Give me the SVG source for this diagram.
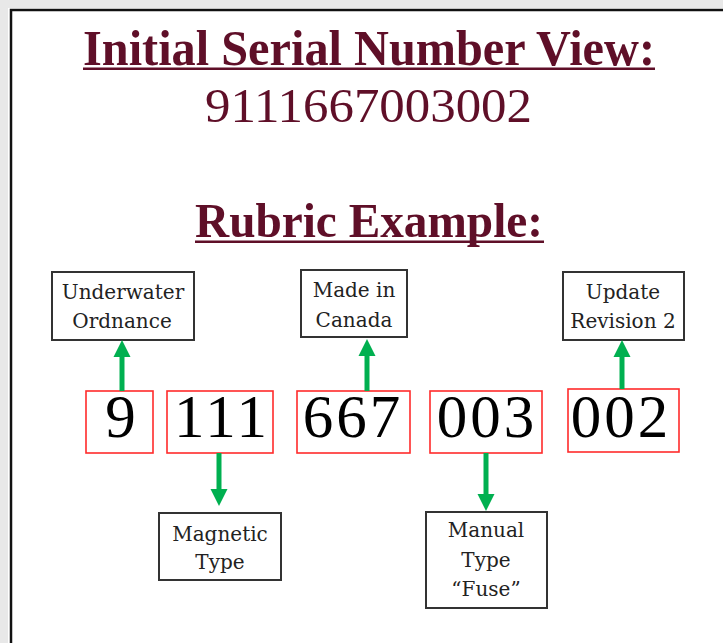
<svg xmlns="http://www.w3.org/2000/svg" width="723" height="643" viewBox="0 0 723 643">
<style>
.title{font-family:"Liberation Serif","DejaVu Serif",serif;font-weight:bold;fill:#5f0f28}
.num{font-family:"Liberation Serif","DejaVu Serif",serif;fill:#5f0f28}
.lbl{fill:#fff;stroke:#333;stroke-width:2}
.lt{font-family:"DejaVu Serif","Liberation Serif",serif;font-size:20px;fill:#222;text-anchor:middle}
.seg{fill:#fff;stroke:#ff2b2b;stroke-width:1.6}
.dig{font-family:"Liberation Serif","DejaVu Serif",serif;font-size:61px;fill:#000;text-anchor:middle;letter-spacing:3px}
.shaft{stroke:#00b050;stroke-width:5;fill:none}
.head{fill:#00b050}
</style>
<rect x="0" y="0" width="723" height="643" fill="#ffffff"/>
<rect x="0" y="0" width="723" height="8" fill="#e8e8e8"/>
<rect x="0" y="0" width="8" height="643" fill="#e8e8e8"/>
<path d="M11 643 V10 H723" fill="none" stroke="#111" stroke-width="2.5"/>

<g id="title1">
<text class="title" x="83" y="65" font-size="50" textLength="572" lengthAdjust="spacingAndGlyphs">Initial Serial Number View:</text>
<rect x="83" y="67.5" width="572" height="2.5" fill="#5f0f28"/>
</g>
<g id="serial">
<text class="num" x="205" y="122" font-size="48" textLength="327" lengthAdjust="spacingAndGlyphs">9111667003002</text>
</g>
<g id="title2">
<text class="title" x="195" y="237" font-size="49" textLength="348" lengthAdjust="spacingAndGlyphs">Rubric Example:</text>
<rect x="195" y="240.5" width="349" height="2.5" fill="#5f0f28"/>
</g>

<g id="seg-9"><rect class="seg" x="86" y="391" width="67" height="62"/><text class="dig" x="122" y="437">9</text></g>
<g id="seg-111"><rect class="seg" x="167" y="391" width="106" height="62"/><text class="dig" x="222" y="437">111</text></g>
<g id="seg-667"><rect class="seg" x="297" y="391" width="113" height="62"/><text class="dig" x="353" y="437">667</text></g>
<g id="seg-003"><rect class="seg" x="430" y="391" width="112" height="62"/><text class="dig" x="487" y="437">003</text></g>
<g id="seg-002"><rect class="seg" x="568" y="389" width="111" height="63"/><text class="dig" x="621" y="437">002</text></g>

<g id="lbl-underwater"><rect class="lbl" x="52" y="272" width="142" height="68"/><text class="lt" x="123" y="299">Underwater</text><text class="lt" x="122" y="328">Ordnance</text></g>
<g id="lbl-canada"><rect class="lbl" x="301" y="270" width="106" height="67"/><text class="lt" x="354" y="297">Made in</text><text class="lt" x="354" y="327">Canada</text></g>
<g id="lbl-update"><rect class="lbl" x="563" y="272" width="121" height="68"/><text class="lt" x="623" y="299">Update</text><text class="lt" x="623" y="328">Revision 2</text></g>
<g id="lbl-magnetic"><rect class="lbl" x="159" y="513" width="122" height="67"/><text class="lt" x="220" y="541">Magnetic</text><text class="lt" x="220" y="569">Type</text></g>
<g id="lbl-manual"><rect class="lbl" x="426" y="512" width="121" height="96"/><text class="lt" x="486" y="537">Manual</text><text class="lt" x="486" y="567">Type</text><text class="lt" x="486" y="596">“Fuse”</text></g>

<g id="connectors">
<line class="shaft" x1="122" y1="391" x2="122" y2="355"/><polygon class="head" points="122,340 113.5,357 130.5,357"/>
<line class="shaft" x1="367" y1="391" x2="367" y2="355"/><polygon class="head" points="367,339 358.5,356 375.5,356"/>
<line class="shaft" x1="622" y1="389" x2="622" y2="355"/><polygon class="head" points="622,340 613.5,357 630.5,357"/>
<line class="shaft" x1="219" y1="453" x2="219" y2="491"/><polygon class="head" points="219,506 210.5,489 227.5,489"/>
<line class="shaft" x1="486" y1="453" x2="486" y2="496"/><polygon class="head" points="486,511 477.5,494 494.5,494"/>
</g>
</svg>
